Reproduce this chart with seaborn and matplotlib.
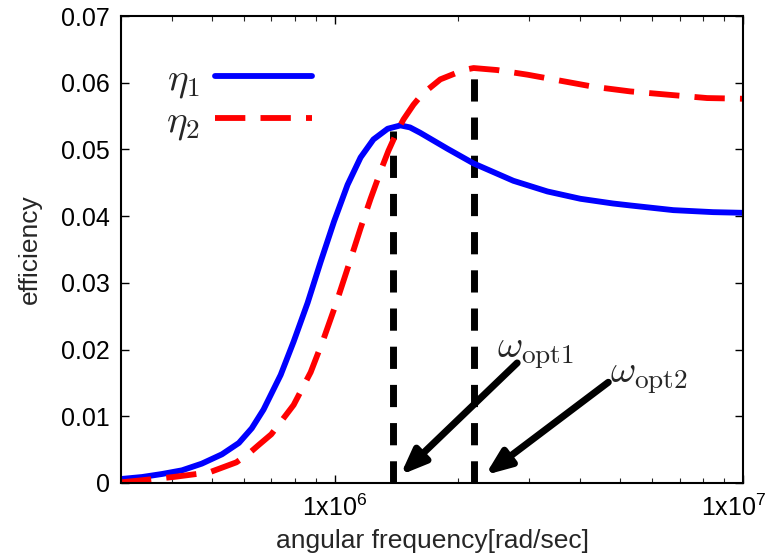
import numpy as np
import pandas as pd
import matplotlib
matplotlib.use("Agg")
import matplotlib.pyplot as plt
import matplotlib.transforms as mtransforms
from matplotlib.font_manager import FontProperties
import seaborn as sns

# ---- data ----
omega1 = [3.0e5, 3.38e5, 3.78e5, 4.23e5, 4.73e5, 5.3e5, 5.83e5, 6.27e5, 6.7e5, 7.38e5,
          7.94e5, 8.59e5, 9.24e5, 9.97e5, 1.076e6, 1.158e6, 1.245e6, 1.349e6, 1.45e6,
          1.53e6, 1.62e6, 1.89e6, 2.19e6, 2.74e6, 3.32e6, 4.0e6, 4.8e6, 5.3e6, 6.75e6,
          8.45e6, 1.0e7]
eta1 = [0.0006, 0.0009, 0.00135, 0.0019, 0.0029, 0.0043, 0.0060, 0.0082, 0.0110, 0.0162,
        0.0212, 0.0270, 0.0331, 0.0392, 0.0447, 0.0488, 0.0515, 0.0531, 0.0536,
        0.0533, 0.0525, 0.0501, 0.0479, 0.0453, 0.0437, 0.0426, 0.0419, 0.0416, 0.0409,
        0.0406, 0.0405]

omega2 = [3.0e5, 3.24e5, 4.03e5, 4.94e5, 5.75e5, 6.19e5, 6.52e5, 7.0e5, 7.94e5, 8.74e5,
          9.4e5, 1.006e6, 1.094e6, 1.158e6, 1.225e6, 1.31e6, 1.355e6, 1.426e6,
          1.475e6, 1.56e6, 1.64e6, 1.815e6, 2.07e6, 2.19e6, 2.5e6, 2.97e6, 3.43e6,
          4.3e6, 5.29e6, 6.56e6, 8.17e6, 1.0e7]
eta2 = [0.0001, 0.0003, 0.0009, 0.0016, 0.0031, 0.0045, 0.0057, 0.0073, 0.0117, 0.0166,
        0.0216, 0.0267, 0.0335, 0.0382, 0.0426, 0.0475, 0.0498, 0.0528,
        0.0545, 0.0567, 0.0583, 0.0605, 0.0619, 0.0622, 0.0619, 0.0612, 0.0605,
        0.0594, 0.0587, 0.0582, 0.0577, 0.0576]

opt_omega = [1.39e6, 2.2e6]
opt_eta = [0.0527, 0.0620]
opt_labels = [r"$\omega_{\rm opt1}$", r"$\omega_{\rm opt2}$"]
series_labels = [r"$\eta_{\rm 1}$", r"$\eta_{\rm 2}$"]

yticks = [0, 0.01, 0.02, 0.03, 0.04, 0.05, 0.06, 0.07]
ytick_labels = ["0", "0.01", "0.02", "0.03", "0.04", "0.05", "0.06", "0.07"]
xticks = [1e6, 1e7]
xtick_labels = [r"1x10$^{\mathregular{6}}$", r"1x10$^{\mathregular{7}}$"]

# ---- style ----
sns.set_theme(style="ticks")
plt.rcParams["font.family"] = ["Liberation Sans", "DejaVu Sans"]
plt.rcParams["mathtext.fontset"] = "custom"
plt.rcParams["mathtext.rm"] = "Liberation Sans"
plt.rcParams["mathtext.it"] = "Liberation Sans:italic"
plt.rcParams["mathtext.default"] = "it"

fig = plt.figure(figsize=(7.69, 5.59), dpi=100)
ax = fig.add_axes([121 / 769, 76 / 559, (743 - 121) / 769, (483 - 16) / 559])

df1 = pd.DataFrame({"omega": omega1, "eta": eta1})
df2 = pd.DataFrame({"omega": omega2, "eta": eta2})

sns.lineplot(data=df1, x="omega", y="eta", ax=ax, color="#0000ff", lw=4.2,
             label=series_labels[0], solid_joinstyle="round")
sns.lineplot(data=df2, x="omega", y="eta", ax=ax, color="#ff0000", lw=4.2,
             label=series_labels[1], dash_joinstyle="round")
ax.lines[1].set_dashes([5.2, 2.6])

# vertical dashed lines at the optima
for xo, yo in zip(opt_omega, opt_eta):
    ln, = ax.plot([xo, xo], [0, yo], color="black", lw=5, zorder=1.5)
    ln.set_dashes([3.2, 2.3])

ax.set_xscale("log")
ax.set_xlim(3e5, 1e7)
ax.set_ylim(0, 0.07)

ax.set_yticks(yticks)
ax.set_yticklabels(ytick_labels)
ax.set_xticks(xticks)
ax.set_xticklabels(xtick_labels)
ax.xaxis.set_minor_locator(matplotlib.ticker.LogLocator(base=10, subs=np.arange(2, 10)))
ax.xaxis.set_minor_formatter(matplotlib.ticker.NullFormatter())

ax.tick_params(axis="both", which="major", direction="in", length=6, width=1,
               top=True, right=True, labelsize=18, pad=8, colors="black")
ax.tick_params(axis="x", which="minor", direction="in", length=3.5, width=0.8,
               top=True, bottom=True)
for s in ax.spines.values():
    s.set_linewidth(1.5)
    s.set_color("black")

# shift the last x tick label slightly left (as in the reference)
lab7 = ax.get_xticklabels()[1]
lab7.set_transform(lab7.get_transform() + mtransforms.ScaledTranslation(-9 / 100, 0, fig.dpi_scale_trans))

ax.set_xlabel("angular frequency[rad/sec]", fontsize=19, labelpad=6)
ax.set_ylabel("efficiency", fontsize=19, labelpad=14)

# legend (label first, line sample after)
leg = ax.legend(loc="upper left", bbox_to_anchor=(0.047, 0.935), frameon=False,
                markerfirst=False, handlelength=2.5, labelspacing=0.08,
                handletextpad=0.4, borderaxespad=0,
                prop=FontProperties(size=28, math_fontfamily="cm"))

# arrows and labels
arrow_start = [(2.8e6, 0.0180), (4.68e6, 0.0151)]
arrow_end = [(1.45e6, 0.0012), (2.34e6, 0.0012)]
label_pos = [(2.5e6, 0.0195), (4.73e6, 0.0157)]
for (sx, sy), (ex, ey), (lx, ly), lab in zip(arrow_start, arrow_end, label_pos, opt_labels):
    ax.annotate("", xy=(ex, ey), xytext=(sx, sy),
                arrowprops=dict(arrowstyle="-|>,head_length=0.75,head_width=0.3",
                                lw=5, color="black", shrinkA=0, shrinkB=0,
                                mutation_scale=20))
    ax.text(lx, ly, lab, ha="left", va="center",
            fontproperties=FontProperties(size=28, math_fontfamily="cm"))

fig.savefig("out.png", dpi=100)
